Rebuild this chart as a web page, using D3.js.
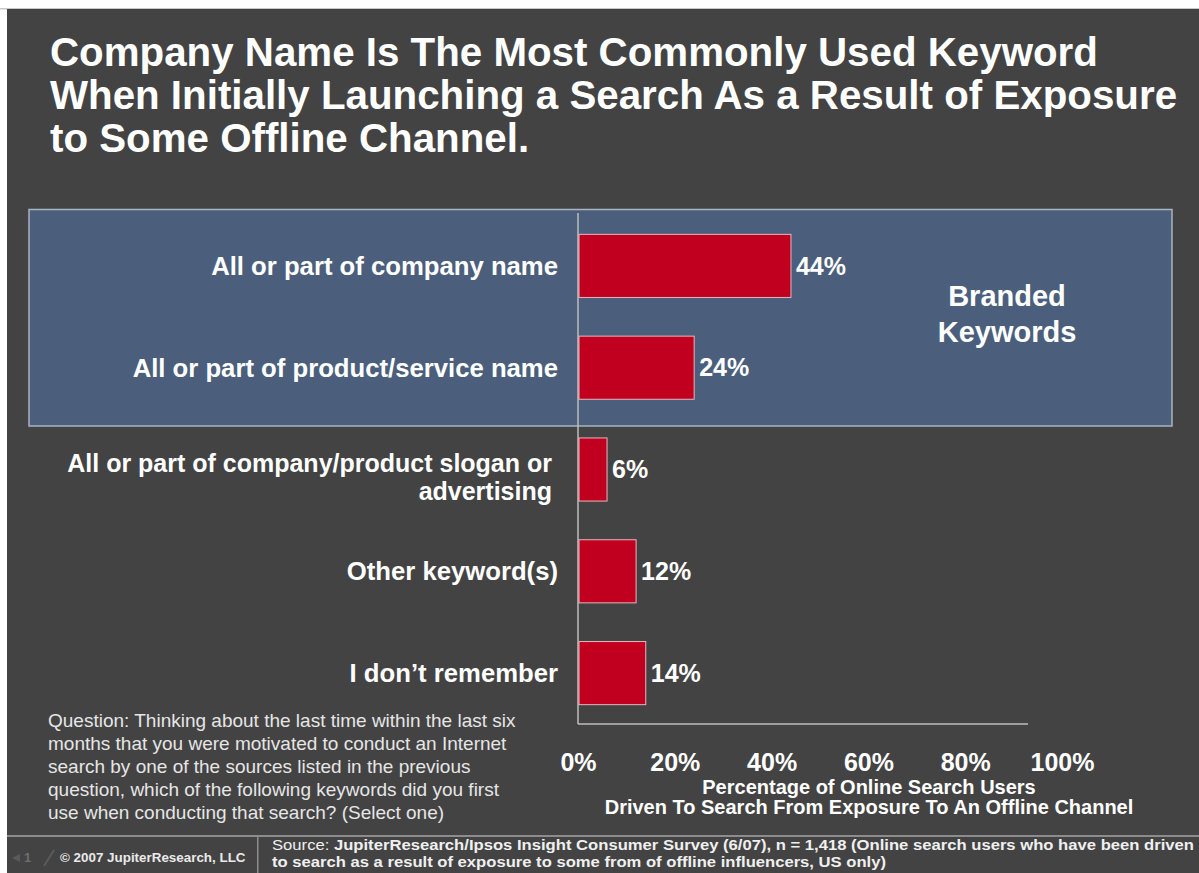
<!DOCTYPE html>
<html>
<head>
<meta charset="utf-8">
<script src="https://cdn.jsdelivr.net/npm/d3@7/dist/d3.min.js"></script>
<style>
  html, body { margin: 0; padding: 0; background: #ffffff; }
  svg { display: block; font-family: "Liberation Sans", Arial, sans-serif; }
</style>
</head>
<body>
<svg id="chart" width="1199" height="873"></svg>
<script>
// Keyword categories and share of users (%)
const categories = [
  ["All or part of company name"],
  ["All or part of product/service name"],
  ["All or part of company/product slogan or", "advertising"],
  ["Other keyword(s)"],
  ["I don\u2019t remember"]
];
const values = [44, 24, 6, 12, 14];
const tickValues = [0, 20, 40, 60, 80, 100];

const titleLines = [
  "Company Name Is The Most Commonly Used Keyword",
  "When Initially Launching a Search As a Result of Exposure",
  "to Some Offline Channel."
];
const axisTitleLines = [
  "Percentage of Online Search Users",
  "Driven To Search From Exposure To An Offline Channel"
];
const questionLines = [
  "Question:  Thinking about the last time within the last six",
  "months that you were motivated to conduct an Internet",
  "search by one of the sources listed in the previous",
  "question, which of the following keywords did you first",
  "use when conducting that search? (Select one)"
];
const brandedLines = ["Branded", "Keywords"];

const svg = d3.select("#chart");

// slide panel
svg.append("rect").attr("x", 0).attr("y", 8).attr("width", 1199).attr("height", 1.5).attr("fill", "#c8c8c8");
svg.append("rect").attr("x", 7).attr("y", 9).attr("width", 1192).attr("height", 864).attr("fill", "#434343");

// title
svg.append("g").selectAll("text").data(titleLines).join("text")
  .attr("x", 50).attr("y", (d, i) => 66 + i * 43)
  .attr("fill", "#ffffff").attr("font-size", 40.3).attr("font-weight", "bold")
  .text(d => d);

// scales
const x = d3.scaleLinear().domain([0, 100]).range([578, 1062]);
const y = d3.scaleBand().domain(d3.range(values.length)).range([215, 724])
  .paddingInner(0.38).paddingOuter(0.19);

// branded keywords highlight box
svg.append("rect")
  .attr("x", 29).attr("y", 209.5).attr("width", 1143).attr("height", 216.5)
  .attr("fill", "#4b5f7d").attr("stroke", "#a9b3c2").attr("stroke-width", 1.5);

svg.append("g").selectAll("text").data(brandedLines).join("text")
  .attr("x", 1007).attr("y", (d, i) => 306 + i * 36)
  .attr("text-anchor", "middle").attr("fill", "#ffffff")
  .attr("font-size", 29).attr("font-weight", "bold")
  .text(d => d);

// axis lines
svg.append("line").attr("x1", x(0)).attr("x2", x(0)).attr("y1", 213).attr("y2", 724)
  .attr("stroke", "#bdbdbd").attr("stroke-width", 1.5);
svg.append("line").attr("x1", x(0)).attr("x2", 1028).attr("y1", 724).attr("y2", 724)
  .attr("stroke", "#bdbdbd").attr("stroke-width", 1.5);

// bars
svg.append("g").selectAll("rect").data(values).join("rect")
  .attr("x", x(0) + 1)
  .attr("y", (d, i) => y(i))
  .attr("width", d => x(d) - x(0) - 1)
  .attr("height", y.bandwidth())
  .attr("fill", "#c10020").attr("stroke", "#e6b7bd").attr("stroke-width", 1);

// value labels
svg.append("g").selectAll("text").data(values).join("text")
  .attr("x", d => x(d) + 5)
  .attr("y", (d, i) => y(i) + y.bandwidth() / 2)
  .attr("dy", "0.35em")
  .attr("fill", "#ffffff").attr("font-size", 25).attr("font-weight", "bold")
  .text(d => d + "%");

// category labels (two-line labels sit in a slightly narrower box)
const catG = svg.append("g");
categories.forEach((lines, i) => {
  const cy = y(i) + y.bandwidth() / 2;
  const lh = 28;
  const multi = lines.length > 1;
  lines.forEach((line, j) => {
    catG.append("text")
      .attr("x", multi ? 552 : 558)
      .attr("y", cy + (multi ? 8 : 0) + (j - (lines.length - 1) / 2) * lh)
      .attr("dy", "0.35em")
      .attr("text-anchor", "end").attr("fill", "#ffffff")
      .attr("font-size", multi ? 25 : 25.7).attr("font-weight", "bold")
      .text(line);
  });
});

// x axis tick labels
const xAxis = d3.axisBottom(x).tickValues(tickValues).tickFormat(d => d + "%").tickSize(0).tickPadding(0);
const axG = svg.append("g").attr("transform", "translate(0,753)").call(xAxis);
axG.select(".domain").remove();
axG.selectAll("text")
  .attr("fill", "#ffffff").attr("font-size", 25).attr("font-weight", "bold")
  .attr("font-family", "Liberation Sans, Arial, sans-serif");

// axis title
svg.append("g").selectAll("text").data(axisTitleLines).join("text")
  .attr("x", 869).attr("y", (d, i) => 794 + i * 20)
  .attr("text-anchor", "middle").attr("fill", "#ffffff")
  .attr("font-size", 20).attr("font-weight", "bold")
  .text(d => d);

// question note
svg.append("g").selectAll("text").data(questionLines).join("text")
  .attr("x", 48).attr("y", (d, i) => 727 + i * 23)
  .attr("fill", "#e6e6e6").attr("font-size", 19)
  .text(d => d);

// footer
svg.append("rect").attr("x", 7).attr("y", 835).attr("width", 1192).attr("height", 2).attr("fill", "#8c8c8c");
svg.append("rect").attr("x", 257).attr("y", 837).attr("width", 1.5).attr("height", 36).attr("fill", "#8c8c8c");

svg.append("text").attr("x", 24).attr("y", 862)
  .attr("fill", "#6e6e6e").attr("font-size", 13).attr("font-weight", "bold").text("1");
svg.append("path").attr("d", "M12,858 L20,854 L20,862 Z").attr("fill", "#5a5a5a");
svg.append("path").attr("d", "M44,866 L54,850").attr("stroke", "#5a5a5a").attr("stroke-width", 2);

svg.append("text").attr("x", 60).attr("y", 862)
  .attr("fill", "#eaeaea").attr("font-size", 13.4).attr("font-weight", "bold")
  .text("\u00A9 2007 JupiterResearch, LLC");

// source note, two tight lines
const src = svg.append("text").attr("x", 272).attr("y", 850)
  .attr("fill", "#f0f0f0").attr("font-size", 15)
  .attr("textLength", 922).attr("lengthAdjust", "spacingAndGlyphs");
src.append("tspan").text("Source: ");
src.append("tspan").attr("font-weight", "bold")
  .text("JupiterResearch/Ipsos Insight Consumer Survey (6/07), n = 1,418 (Online search users who have been driven");
svg.append("text").attr("x", 272).attr("y", 867)
  .attr("fill", "#f0f0f0").attr("font-size", 15).attr("font-weight", "bold")
  .attr("textLength", 614).attr("lengthAdjust", "spacingAndGlyphs")
  .text("to search as a result of exposure to some from of offline influencers, US only)");
</script>
</body>
</html>
